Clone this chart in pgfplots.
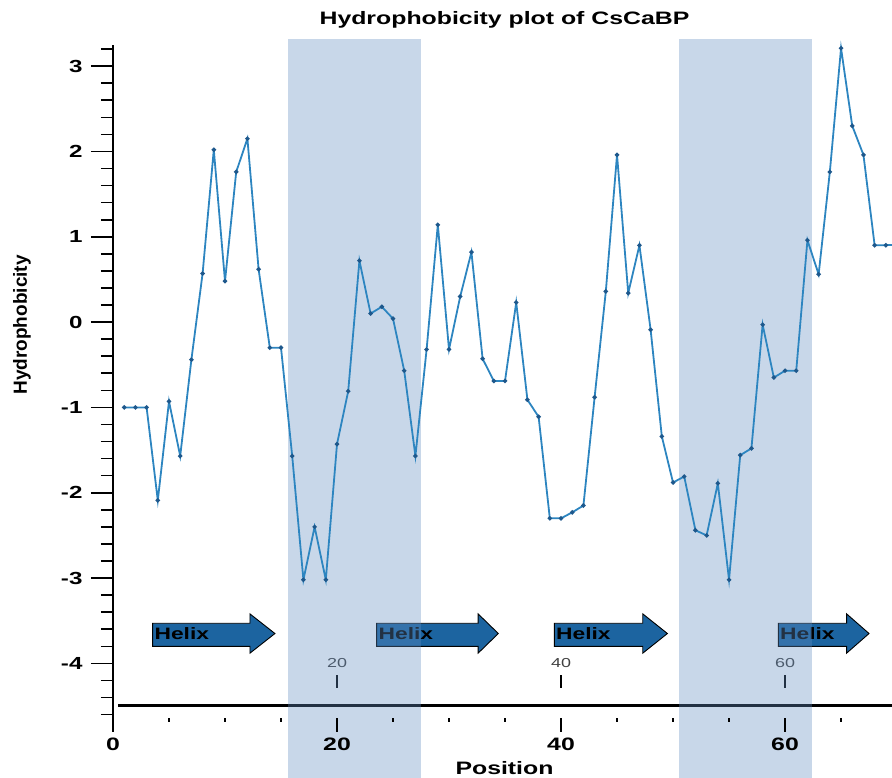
\documentclass[border=0pt]{standalone}
\usepackage{fontspec}
\setmainfont{Liberation Sans}[FakeStretch=1.38]
\newfontfamily\plainfont{Liberation Sans}
\usepackage{pgfplots}
\pgfplotsset{compat=1.18}
\usepackage{pgfplotstable}

\definecolor{curve}{RGB}{45,133,192}
\definecolor{curvemark}{RGB}{30,88,140}
\definecolor{helix}{RGB}{28,100,160}
\definecolor{band}{RGB}{98,141,192}

% hydrophobicity per residue position
\pgfplotstableread{
pos hyd
1 -1.00
2 -1.00
3 -1.00
4 -2.09
5 -0.93
6 -1.57
7 -0.44
8 0.57
9 2.02
10 0.48
11 1.76
12 2.15
13 0.62
14 -0.30
15 -0.30
16 -1.57
17 -3.02
18 -2.40
19 -3.02
20 -1.43
21 -0.81
22 0.72
23 0.10
24 0.18
25 0.04
26 -0.57
27 -1.57
28 -0.32
29 1.14
30 -0.32
31 0.30
32 0.82
33 -0.43
34 -0.69
35 -0.69
36 0.23
37 -0.91
38 -1.11
39 -2.30
40 -2.30
41 -2.23
42 -2.15
43 -0.88
44 0.36
45 1.96
46 0.34
47 0.90
48 -0.09
49 -1.34
50 -1.88
51 -1.81
52 -2.44
53 -2.50
54 -1.89
55 -3.02
56 -1.56
57 -1.48
58 -0.03
59 -0.65
60 -0.57
61 -0.57
62 0.96
63 0.56
64 1.76
65 3.21
66 2.30
67 1.96
68 0.90
69 0.90
}\hydro

% start, head start, tip, text x
\newcommand{\helix}[4]{%
  \filldraw[fill=helix, draw=black, line width=0.9pt]
    (axis cs:#1,-3.53) -- (axis cs:#2,-3.53) -- (axis cs:#2,-3.42) --
    (axis cs:#3,-3.65) -- (axis cs:#2,-3.88) -- (axis cs:#2,-3.80) --
    (axis cs:#1,-3.80) -- cycle;
  \node[anchor=west, inner sep=0pt, font=\bfseries\fontsize{16.5}{19}\selectfont]
    at (axis cs:#4,-3.655) {Helix};
}

\begin{document}
\begin{tikzpicture}
\begin{axis}[
  scale only axis, width=779pt, height=679pt,
  xmin=0, xmax=69.55, ymin=-4.64, ymax=3.318,
  clip=false,
  axis line style={draw=none},
  xtick=\empty,
  ytick={-4,...,3},
  minor ytick={-4.6,-4.4,...,3.2},
  ytick pos=left, tick align=outside,
  major tick length=22pt, minor tick length=12pt,
  tick style={black, line width=1.6pt},
  yticklabel style={font=\bfseries\fontsize{17.5}{20}\selectfont, xshift=-5pt},
  /pgf/number format/assume math mode=true,
  title={Hydrophobicity plot of CsCaBP},
  title style={font=\bfseries\fontsize{18}{21}\selectfont,
    at={(axis description cs:0.5,1)}, anchor=center, yshift=13pt, xshift=2pt},
  ylabel={Hydrophobicity},
  ylabel style={font=\plainfont\bfseries\fontsize{19}{22}\selectfont,
    at={(axis description cs:-0.1170,0.579)}, anchor=center},
]
  % y axis line and position ruler
  \draw[line width=1.8pt] (axis cs:0,-4.78) -- (axis cs:0,3.25);
  \draw[line width=3pt] (axis cs:0.45,-4.49) -- (axis cs:69.55,-4.49);
  \pgfplotsinvokeforeach{20,40,60}{
    \node[font=\fontsize{13}{15}\selectfont, text=black!75] at (axis cs:#1,-3.99) {#1};
    \draw[line width=1.8pt] (axis cs:#1,-4.14) -- (axis cs:#1,-4.29);
  }
  % helices
  \helix{3.54}{12.23}{14.46}{3.7}
  \helix{23.54}{32.6}{34.4}{23.7}
  \helix{39.4}{47.3}{49.5}{39.55}
  \helix{59.4}{65.5}{67.5}{59.55}
  % shaded regions
  \fill[band, fill opacity=0.35] (axis cs:15.6,-5.35) rectangle (axis cs:27.5,3.318);
  \fill[band, fill opacity=0.35] (axis cs:50.55,-5.35) rectangle (axis cs:62.45,3.318);
  % curve
  \addplot[curve, line width=1.8pt, mark=*, mark size=1.2pt,
    mark options={fill=curvemark, draw=curvemark}] table[x=pos, y=hyd] {\hydro};
  \addplot[curve, line width=1.8pt, no marks] coordinates {(69,0.90) (69.55,0.90)};
\end{axis}
\begin{axis}[
  scale only axis, width=779pt, height=679pt,
  xmin=0, xmax=69.55, ymin=-4.64, ymax=3.318,
  axis line style={draw=none},
  ytick=\empty,
  xtick={0,20,40,60},
  minor xtick={5,10,15,25,30,35,45,50,55,65},
  xtick pos=bottom, tick align=outside,
  major tick length=14pt, minor tick length=4pt,
  tick style={black, line width=1.8pt},
  xticklabel style={font=\bfseries\fontsize{18}{21}\selectfont, yshift=-2pt},
  /pgf/number format/assume math mode=true,
  xlabel={Position},
  xlabel style={font=\bfseries\fontsize{18}{21}\selectfont,
    at={(axis description cs:0.5,0)}, anchor=center, yshift=-50pt, xshift=2pt},
]
\end{axis}
\pgfresetboundingbox
\path[use as bounding box] (-113pt,-60pt) rectangle (779pt,718pt);
\end{tikzpicture}
\end{document}
